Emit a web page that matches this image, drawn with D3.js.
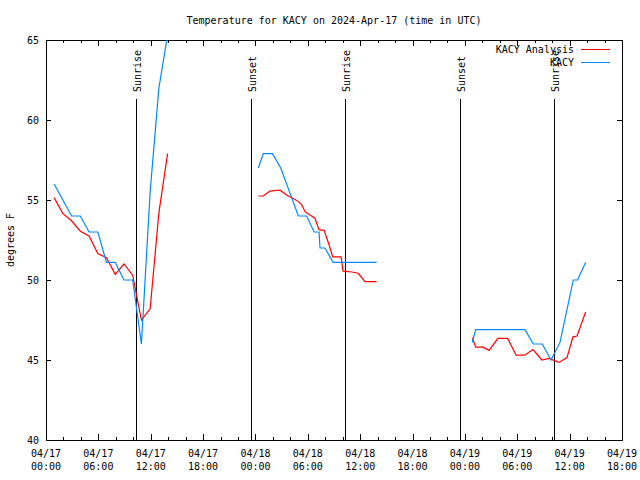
<!DOCTYPE html>
<html><head><meta charset="utf-8">
<script src="https://cdn.jsdelivr.net/npm/d3@7/dist/d3.min.js"></script>
<style>
body{margin:0;background:#fff}
svg text{font-family:"DejaVu Sans Mono","Liberation Mono",monospace;font-size:10px;fill:#000}
</style>
</head><body><svg id="c" width="640" height="480"></svg>
<script>
const title = "Temperature for KACY on 2024-Apr-17 (time in UTC)";
const yLabel = "degrees F";
const yTicks = [40, 45, 50, 55, 60, 65];
const seriesNames = ["KACY Analysis", "KACY"];
const seriesColors = ["#ff0000", "#0088ff"];

// KACY Analysis (red)
const analysisTimes = [
 "2024-04-17T00:56Z","2024-04-17T01:56Z","2024-04-17T02:56Z","2024-04-17T03:56Z","2024-04-17T04:56Z",
 "2024-04-17T05:56Z","2024-04-17T06:56Z","2024-04-17T07:56Z","2024-04-17T08:56Z","2024-04-17T09:56Z",
 "2024-04-17T10:56Z","2024-04-17T11:56Z","2024-04-17T12:56Z","2024-04-17T13:56Z",
 "2024-04-17T18:00Z",
 "2024-04-18T00:20Z","2024-04-18T00:54Z","2024-04-18T01:40Z","2024-04-18T02:25Z","2024-04-18T02:52Z",
 "2024-04-18T03:37Z","2024-04-18T04:20Z","2024-04-18T04:56Z","2024-04-18T05:18Z","2024-04-18T05:41Z",
 "2024-04-18T06:15Z","2024-04-18T06:49Z","2024-04-18T07:17Z","2024-04-18T07:52Z","2024-04-18T08:26Z",
 "2024-04-18T08:51Z","2024-04-18T09:49Z","2024-04-18T10:02Z","2024-04-18T11:04Z","2024-04-18T11:47Z",
 "2024-04-18T12:33Z","2024-04-18T13:53Z",
 "2024-04-18T18:00Z",
 "2024-04-19T00:51Z","2024-04-19T01:14Z","2024-04-19T02:05Z","2024-04-19T02:46Z","2024-04-19T03:47Z",
 "2024-04-19T04:54Z","2024-04-19T05:52Z","2024-04-19T06:50Z","2024-04-19T07:48Z","2024-04-19T08:50Z",
 "2024-04-19T09:38Z","2024-04-19T10:47Z","2024-04-19T11:42Z","2024-04-19T12:23Z","2024-04-19T12:51Z",
 "2024-04-19T13:50Z"
];
const analysisValues = [
 55.15, 54.15, 53.7, 53.05, 52.75, 51.65, 51.4, 50.35, 51.0, 50.3, 47.5, 48.2, 54.2, 57.9,
 null,
 55.25, 55.25, 55.56, 55.6, 55.6, 55.3, 55.1, 54.9, 54.7, 54.27, 54.06, 53.86, 53.15, 53.1, 52.2,
 51.45, 51.45, 50.55, 50.5, 50.42, 49.9, 49.9,
 null,
 46.4, 45.8, 45.8, 45.6, 46.35, 46.35, 45.3, 45.3, 45.65, 45.0, 45.1, 44.85, 45.15, 46.45, 46.5, 48.0
];

// KACY observations (blue)
const obsTimes = [
 "2024-04-17T00:56Z","2024-04-17T01:56Z","2024-04-17T02:56Z","2024-04-17T03:56Z","2024-04-17T04:56Z",
 "2024-04-17T05:56Z","2024-04-17T06:56Z","2024-04-17T07:56Z","2024-04-17T08:56Z","2024-04-17T09:56Z",
 "2024-04-17T10:56Z","2024-04-17T11:56Z","2024-04-17T12:56Z","2024-04-17T13:56Z",
 "2024-04-17T18:00Z",
 "2024-04-18T00:20Z","2024-04-18T00:54Z","2024-04-18T01:57Z","2024-04-18T02:54Z","2024-04-18T04:55Z",
 "2024-04-18T05:52Z","2024-04-18T06:43Z","2024-04-18T07:17Z","2024-04-18T07:24Z","2024-04-18T07:58Z",
 "2024-04-18T08:54Z","2024-04-18T09:54Z","2024-04-18T10:54Z","2024-04-18T11:54Z","2024-04-18T12:54Z",
 "2024-04-18T13:53Z",
 "2024-04-18T18:00Z",
 "2024-04-19T00:51Z","2024-04-19T01:14Z","2024-04-19T01:54Z","2024-04-19T02:54Z","2024-04-19T03:54Z",
 "2024-04-19T04:54Z","2024-04-19T05:54Z","2024-04-19T06:53Z","2024-04-19T07:50Z","2024-04-19T08:52Z",
 "2024-04-19T09:52Z","2024-04-19T10:54Z","2024-04-19T12:25Z","2024-04-19T12:54Z","2024-04-19T13:50Z"
];
const obsValues = [
 56.0, 55.0, 54.0, 54.0, 53.0, 53.0, 51.1, 51.1, 50.0, 50.0, 46.0, 55.5, 62.0, 65.3,
 null,
 57.0, 57.9, 57.9, 57.0, 54.0, 54.0, 53.0, 53.0, 52.0, 52.0, 51.1, 51.1, 51.1, 51.1, 51.1, 51.1,
 null,
 46.1, 46.9, 46.9, 46.9, 46.9, 46.9, 46.9, 46.9, 46.0, 46.0, 45.0, 46.1, 50.0, 50.0, 51.1
];

const sunLabels = ["Sunrise", "Sunset", "Sunrise", "Sunset", "Sunrise"];
const sunTimes = ["2024-04-17T10:17Z", "2024-04-17T23:30Z", "2024-04-18T10:14Z", "2024-04-18T23:27Z", "2024-04-19T10:13Z"];

const xStart = "2024-04-17T00:00Z", xEnd = "2024-04-19T18:00Z";

// ---- drawing ----
const svg = d3.select("#c");
const L = 46, R = 622, T = 40, B = 440;
const x = d3.scaleUtc().domain([new Date(xStart), new Date(xEnd)]).range([L, R]);
const y = d3.scaleLinear().domain([40, 65]).range([B, T]);

svg.append("defs").append("clipPath").attr("id", "pc")
  .append("rect").attr("x", L).attr("y", T).attr("width", R - L).attr("height", B - T);

// Title (centred over the plot area)
svg.append("text").attr("x", (L + R) / 2).attr("y", 24).attr("text-anchor", "middle").text(title);
// Y label
svg.append("text").attr("transform", "translate(14,240) rotate(-90)").attr("text-anchor", "middle").text(yLabel);

// Ticks
const majorTicks = d3.utcHour.every(6).range(new Date(xStart), new Date(Date.parse(xEnd) + 1));
const minorTicks = d3.utcHour.every(2).range(new Date(xStart), new Date(Date.parse(xEnd) + 1))
  .filter(d => d.getUTCHours() % 6 !== 0);

function styleAxis(g) {
  g.select(".domain").remove();
  g.selectAll("line").attr("stroke", "#000").attr("shape-rendering", "crispEdges");
  g.selectAll("text").remove();
}
svg.append("g").attr("transform", `translate(0,${B})`)
  .call(d3.axisBottom(x).tickValues(majorTicks).tickSize(-6).tickFormat("")).call(styleAxis);
svg.append("g").attr("transform", `translate(0,${B})`)
  .call(d3.axisBottom(x).tickValues(minorTicks).tickSize(-3).tickFormat("")).call(styleAxis);
svg.append("g").attr("transform", `translate(0,${T})`)
  .call(d3.axisTop(x).tickValues(majorTicks).tickSize(-6).tickFormat("")).call(styleAxis);
svg.append("g").attr("transform", `translate(0,${T})`)
  .call(d3.axisTop(x).tickValues(minorTicks).tickSize(-3).tickFormat("")).call(styleAxis);

const fmtD = d3.utcFormat("%m/%d"), fmtH = d3.utcFormat("%H:%M");
const xl = svg.append("g").selectAll("g").data(majorTicks).join("g");
xl.append("text").attr("x", d => x(d)).attr("y", 457).attr("text-anchor", "middle").text(d => fmtD(d));
xl.append("text").attr("x", d => x(d)).attr("y", 470).attr("text-anchor", "middle").text(d => fmtH(d));

const yl = d3.axisLeft(y).tickValues(yTicks).tickSize(-5).tickPadding(7);
const gy = svg.append("g").attr("transform", `translate(${L},0)`).call(yl);
gy.select(".domain").remove();
gy.selectAll("line").attr("stroke", "#000").attr("shape-rendering", "crispEdges");
gy.selectAll("text").attr("font-family", null).attr("font-size", null).attr("fill", "#000");
svg.append("g").attr("transform", `translate(${R},0)`)
  .call(d3.axisRight(y).tickValues(yTicks).tickSize(-5).tickFormat("")).call(styleAxis);

// Frame
svg.append("rect").attr("x", L + 0.5).attr("y", T + 0.5).attr("width", R - L).attr("height", B - T)
  .attr("fill", "none").attr("stroke", "#000").attr("shape-rendering", "crispEdges");

// Sun lines
const sg = svg.append("g").selectAll("g").data(sunTimes.map((t, i) => ({t: new Date(t), l: sunLabels[i]}))).join("g");
sg.append("line").attr("x1", d => Math.round(x(d.t)) + 0.5).attr("x2", d => Math.round(x(d.t)) + 0.5)
  .attr("y1", 99).attr("y2", B).attr("stroke", "#000").attr("shape-rendering", "crispEdges");
sg.append("text").attr("transform", d => `translate(${Math.round(x(d.t)) + 5},92) rotate(-90)`)
  .attr("text-anchor", "start").text(d => d.l);

// Series
const line = d3.line().defined(d => d.v != null).x(d => x(d.t)).y(d => y(d.v));
const series = [
  {name: seriesNames[0], color: seriesColors[0], data: analysisTimes.map((t, i) => ({t: new Date(t), v: analysisValues[i]}))},
  {name: seriesNames[1], color: seriesColors[1], data: obsTimes.map((t, i) => ({t: new Date(t), v: obsValues[i]}))}
];
const plot = svg.append("g").attr("clip-path", "url(#pc)");
plot.selectAll("path").data(series).join("path")
  .attr("d", d => line(d.data)).attr("fill", "none").attr("stroke", d => d.color).attr("stroke-width", 1.2);

// Legend
const lg = svg.append("g").selectAll("g").data(series).join("g");
lg.append("text").attr("x", 574).attr("y", (d, i) => 53 + i * 13.3).attr("text-anchor", "end").text(d => d.name);
lg.append("line").attr("x1", 581).attr("x2", 610).attr("y1", (d, i) => 49.5 + i * 13).attr("y2", (d, i) => 49.5 + i * 13)
  .attr("stroke", d => d.color).attr("shape-rendering", "crispEdges");
</script>
</body></html>
